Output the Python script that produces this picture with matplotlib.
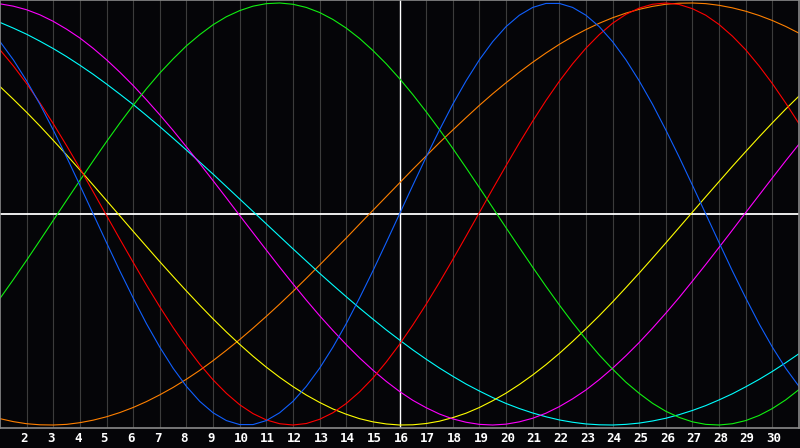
import numpy as np
import matplotlib
matplotlib.use('Agg')
import matplotlib.pyplot as plt
from matplotlib.transforms import ScaledTranslation

# days shown on the chart (1 .. 31), plus mid-day readings (1.5 .. 30.5)
days = list(range(1, 32))
half_days = [d + 0.5 for d in range(1, 31)]
tick_days = list(range(2, 31))

# cycle values, in thousandths of full swing, one per day
physical = [817,631,398,136,-136,-398,-631,-817,-942,-998,-979,-888,-731,-520,-270,0,
            270,520,731,888,979,998,942,817,631,398,136,-136,-398,-631,-817]
emotional = [778,618,428,216,-7,-229,-440,-629,-786,-904,-976,-1000,-973,-898,-778,-618,
             -428,-216,7,229,440,629,786,904,976,1000,973,898,778,618,428]
intellectual = [-400,-219,-30,159,343,515,668,797,897,964,997,994,955,881,775,642,
                485,311,125,-65,-252,-431,-594,-735,-850,-935,-985,-1000,-979,-922,-832]
intuitive = [996,968,913,834,731,609,470,318,158,-7,-171,-331,-482,-619,-740,-841,
             -918,-971,-997,-996,-968,-913,-834,-731,-609,-470,-318,-158,7,171,331]
aesthetic = [604,482,349,209,64,-82,-226,-365,-497,-618,-726,-818,-893,-949,-985,-1000,
             -993,-965,-917,-849,-763,-661,-544,-417,-280,-137,9,154,296,432,559]
awareness = [-970,-994,-1000,-989,-961,-917,-857,-783,-695,-595,-485,-367,-242,-114,17,147,
             275,398,515,622,719,804,874,930,970,994,1000,989,961,917,857]
spiritual = [908,852,784,705,616,519,414,303,189,71,-47,-165,-281,-392,-498,-597,
             -688,-769,-839,-898,-943,-976,-995,-1000,-991,-968,-931,-881,-819,-746,-662]

# the same cycles read at mid-day
physical_mid = [731,520,270,0,-270,-520,-731,-888,-979,-998,-942,-817,-631,-398,-136,
                136,398,631,817,942,998,979,888,731,520,270,0,-270,-520,-731]
emotional_mid = [702,526,324,105,-119,-337,-538,-712,-850,-946,-994,-993,-942,-843,-702,
                 -526,-324,-105,119,337,538,712,850,946,994,993,942,843,702,526]
intellectual_mid = [-311,-125,65,252,431,594,735,850,935,985,1000,979,922,832,712,
                    566,400,219,30,-159,-343,-515,-668,-797,-897,-964,-997,-994,-955,-881]
intuitive_mid = [985,944,876,785,672,541,396,239,76,-89,-252,-408,-552,-682,-793,
                 -883,-948,-987,-1000,-985,-944,-876,-785,-672,-541,-396,-239,-76,89,252]
aesthetic_mid = [544,417,280,137,-9,-154,-296,-432,-559,-674,-774,-858,-924,-970,-995,
                 -999,-982,-944,-885,-808,-714,-604,-482,-349,-209,-64,82,226,365,497]
awareness_mid = [-984,-999,-997,-977,-941,-889,-822,-741,-646,-541,-427,-305,-178,-48,82,
                 212,338,457,570,672,763,841,904,952,984,999,997,977,941,889]
spiritual_mid = [881,819,746,662,568,467,359,246,130,12,-106,-223,-337,-446,-549,
                 -644,-730,-806,-870,-922,-961,-987,-999,-997,-981,-951,-908,-852,-784,-705]

series = [
    (awareness, awareness_mid, '#ff8000'),
    (spiritual, spiritual_mid, '#00ffff'),
    (aesthetic, aesthetic_mid, '#ffff00'),
    (intuitive, intuitive_mid, '#ff00ff'),
    (intellectual, intellectual_mid, '#10f010'),
    (emotional, emotional_mid, '#ff0000'),
    (physical, physical_mid, '#1060ff'),
]

bg = '#050508'
fig = plt.figure(figsize=(8, 4.48), dpi=100, facecolor=bg)
ax = fig.add_axes([0, 20/448, 799/800, 428/448])
ax.set_facecolor(bg)

# day grid
for t in tick_days:
    if t == 16:
        ax.axvline(t, color='white', lw=1.0, zorder=1)
    else:
        ax.axvline(t, color='#3c3c3c', lw=0.8, zorder=1)
ax.axhline(0, color='white', lw=1.3, zorder=1)

for vals, mids, c in series:
    # merge day and mid-day readings in x order
    x = np.empty(len(days) + len(half_days))
    y = np.empty_like(x)
    x[0::2], x[1::2] = days, half_days
    y[0::2], y[1::2] = np.array(vals) / 1000, np.array(mids) / 1000
    ax.plot(x, y, color=c, lw=0.8, zorder=2)

ax.set_xlim(1, 31)
lim = 214/211
ax.set_ylim(-lim, lim)

for s in ax.spines.values():
    s.set_color('#8a8a8a')
    s.set_linewidth(1.2)

ax.set_yticks([])
ax.set_xticks([])

# day labels, left edge a few pixels before each grid line
off = ScaledTranslation(-6/100, -10.5/100, fig.dpi_scale_trans)
for t in tick_days:
    ax.text(t, 0, str(t), transform=ax.get_xaxis_transform() + off,
            ha='left', va='center', color='white',
            fontfamily='DejaVu Sans Mono', fontweight='bold', fontsize=9)

fig.savefig('out.png', dpi=100, facecolor=bg)
